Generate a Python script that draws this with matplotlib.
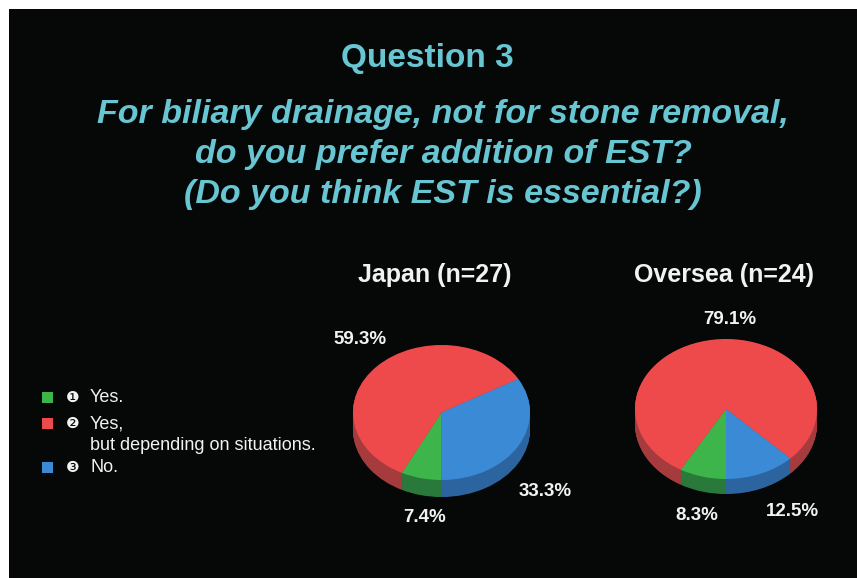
import matplotlib
matplotlib.use('Agg')
import matplotlib.pyplot as plt
from matplotlib.patches import Rectangle
from matplotlib import font_manager

# ---- data ----
title = 'Question 3'
subtitle_lines = ['For biliary drainage, not for stone removal,',
                  'do you prefer addition of EST?',
                  '(Do you think EST is essential?)']
categories = ['Yes.', 'Yes,', 'No.']
category_note = 'but depending on situations.'
markers = ['\u2776', '\u2777', '\u2778']
groups = ['Japan (n=27)', 'Oversea (n=24)']
japan = [7.4, 59.3, 33.3]
oversea = [8.3, 79.1, 12.5]

# ---- styles ----
W, H = 857, 578
BG = '#060808'
CYAN = '#68c6d2'
WHITE = '#f2f2f2'
top_colors = ['#3db54b', '#ee4a4b', '#3a8ad6']
side_colors = ['#28793a', '#a63b3d', '#2c649f']

fig = plt.figure(figsize=(W / 100, H / 100), dpi=100, facecolor='white')


def fx(x):
    return x / W


def fy(y):
    return 1 - y / H


fig.patches.append(Rectangle((fx(9), 0), 1 - fx(9), fy(9), transform=fig.transFigure,
                             facecolor=BG, edgecolor='none', zorder=-5))

names = {f.name for f in font_manager.fontManager.ttflist}
SANS = ['Liberation Sans', 'DejaVu Sans']
NARROW = ['Liberation Sans Narrow', 'Liberation Sans'] if 'Liberation Sans Narrow' in names else SANS

# ---- titles ----
fig.text(fx(427), fy(67), title, color=CYAN, fontsize=24, fontweight='bold',
         family=SANS, ha='center', va='baseline')

sub_baselines = [123, 163, 203]
sub_texts = []
for line, yb in zip(subtitle_lines, sub_baselines):
    t = fig.text(fx(443), fy(yb), line, color=CYAN, fontsize=26, fontweight='bold',
                 fontstyle='italic', family=NARROW, ha='center', va='baseline')
    sub_texts.append(t)
renderer = fig.canvas.get_renderer()
w0 = sub_texts[0].get_window_extent(renderer).width
fs = min(26, 26 * 693 / w0)
for t in sub_texts:
    t.set_fontsize(fs)


# ---- pies ----
def draw_pie(values, cx, cy, rx, ry, depth):
    pad = 4
    ax = fig.add_axes([fx(cx - rx - pad), fy(cy + ry + depth + pad),
                       (2 * rx + 2 * pad) / W, (2 * ry + depth + 2 * pad) / H])
    ax.set_zorder(1)
    d = depth / ry
    n = 30
    wp = dict(linewidth=0, antialiased=True)
    for k in range(n, 0, -1):
        ax.pie(values, colors=side_colors, startangle=270, counterclock=False,
               center=(0, -d * k / n), radius=1, wedgeprops=wp, frame=False)
    ax.pie(values, colors=top_colors, startangle=270, counterclock=False,
           center=(0, 0), radius=1, wedgeprops=wp, frame=False)
    ax.set_aspect('auto')
    px = pad / rx
    py = pad / ry
    ax.set_xlim(-1 - px, 1 + px)
    ax.set_ylim(-1 - d - py, 1 + py)
    ax.axis('off')
    return ax


draw_pie(japan, 441.5, 412.5, 88.5, 67.5, 17)
draw_pie(oversea, 726, 409, 91, 70, 15)

# group titles
fig.text(fx(435), fy(282), groups[0], color=WHITE, fontsize=18, fontweight='bold',
         family=SANS, ha='center', va='baseline')
fig.text(fx(724), fy(282), groups[1], color=WHITE, fontsize=18, fontweight='bold',
         family=SANS, ha='center', va='baseline')

# percentage labels (order: Yes, Yes-but, No)
japan_label_pos = [(425, 517), (360, 340), (545, 491)]
oversea_label_pos = [(697, 515), (730, 320), (792, 511)]
for vals, poss in ((japan, japan_label_pos), (oversea, oversea_label_pos)):
    for v, (x, y) in zip(vals, poss):
        fig.text(fx(x), fy(y), f'{v}%', color=WHITE, fontsize=13.5, fontweight='bold',
                 family=SANS, ha='center', va='center', zorder=3)

# ---- legend ----
legend_rows = [397, 423, 467]
for i, (cat, mk, yc) in enumerate(zip(categories, markers, legend_rows)):
    fig.patches.append(Rectangle((fx(42), fy(yc + 5.5)), 11 / W, 11 / H,
                                 transform=fig.transFigure, facecolor=top_colors[i],
                                 edgecolor='none', zorder=2))
    fig.text(fx(72.5), fy(yc), mk, color=WHITE, fontsize=11, family=['DejaVu Sans'],
             ha='center', va='center')
    fig.text(fx(90), fy(yc + 5.5), cat, color=WHITE, fontsize=13, family=SANS,
             ha='left', va='baseline')
fig.text(fx(90), fy(428 + 22), category_note, color=WHITE, fontsize=13, family=SANS,
         ha='left', va='baseline')

fig.savefig('out.png', dpi=100, facecolor='white')
